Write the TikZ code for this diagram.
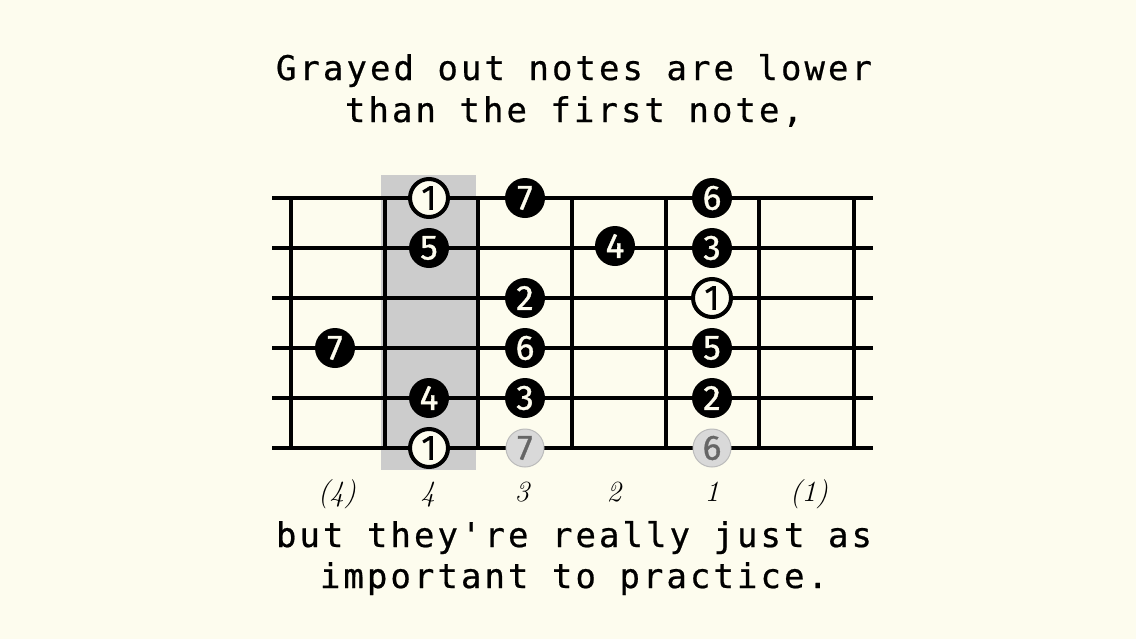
\documentclass[tikz,border=0pt]{standalone}
\usepackage{fontspec}
\usepackage{xcolor}
\definecolor{pageBack}{HTML}{FDFCEE}
\definecolor{boxBack} {HTML}{CCCCCC}
\definecolor{lowBack} {HTML}{D9D9D9}
\definecolor{lowLine} {HTML}{BBBBBB}
\definecolor{lowText} {HTML}{666666}
\newfontfamily\capfont[LetterSpace=9, FakeBold=0.6]{DejaVu Sans Mono}
\newfontfamily\dotfont[FakeBold=1]{Fira Sans}

\begin{document}
\begin{tikzpicture}[x=0.3mm, y=-0.3mm,
    wire/.style={line width=1.2mm},
    dot/.style={circle, inner sep=0pt, minimum size=12mm,
        font=\dotfont\fontsize{30}{30}\selectfont},
    noteDot/.style={dot, fill=black, text=pageBack},
    rootDot/.style={dot, minimum size=11.4mm, fill=pageBack, draw=black,
        line width=1.2mm, text=black},
    lowDot/.style={dot, minimum size=11.4mm, fill=lowBack, draw=lowLine,
        line width=0.3mm, text=lowText},
    caption/.style={anchor=base, font=\capfont\fontsize{29}{29}\selectfont},
    finger/.style={anchor=base, font=\itshape\fontsize{25}{25}\selectfont}]
    % Page, one pixel of the reference per unit.
    \fill[pageBack] (0,0) rectangle (1136,639);
    \useasboundingbox (0,0) rectangle (1136,639);

    % --- Shaded position box ---
    \fill[boxBack] (381,175) rectangle (476,470);

    % --- Strings and frets ---
    \foreach \y in {198,248,298,348,398,448}
        \draw[wire] (272,\y) -- (873,\y);
    \foreach \x in {291,385,478,572,666,759,854}
        \draw[wire] (\x,198) -- (\x,448);

    % --- Scale notes ---
    \node[noteDot] (lowSeven) at (335,348) {7};

    \node[rootDot] (rootHigh) at (429,198) {1};
    \node[noteDot] (fiveA)    at (429,248) {5};
    \node[noteDot] (fourA)    at (429,398) {4};
    \node[rootDot] (rootLow)  at (429,448) {1};

    \node[noteDot] (sevenA)   at (525,198) {7};
    \node[noteDot] (twoA)     at (525,298) {2};
    \node[noteDot] (sixA)     at (525,348) {6};
    \node[noteDot] (threeA)   at (525,398) {3};
    \node[lowDot]  (sevenLow) at (525,448) {7};

    \node[noteDot] (fourB)    at (615,246) {4};

    \node[noteDot] (sixB)     at (712,198) {6};
    \node[noteDot] (threeB)   at (712,248) {3};
    \node[rootDot] (rootMid)  at (712,298) {1};
    \node[noteDot] (fiveB)    at (712,348) {5};
    \node[noteDot] (twoB)     at (712,398) {2};
    \node[lowDot]  (sixLow)   at (712,448) {6};

    % --- Finger numbers under the frets ---
    \node[finger] (fingerA) at (337,501) {(4)};
    \node[finger] (fingerB) at (428,501) {4};
    \node[finger] (fingerC) at (522,501) {3};
    \node[finger] (fingerD) at (614,501) {2};
    \node[finger] (fingerE) at (712,501) {1};
    \node[finger] (fingerF) at (809,501) {(1)};

    % --- Captions ---
    \node[caption] (topA) at (574,80)  {Grayed out notes are lower};
    \node[caption] (topB) at (574,122) {than the first note,};
    \node[caption] (botA) at (574,547) {but they're really just as};
    \node[caption] (botB) at (574,588) {important to practice.};
\end{tikzpicture}
\end{document}
